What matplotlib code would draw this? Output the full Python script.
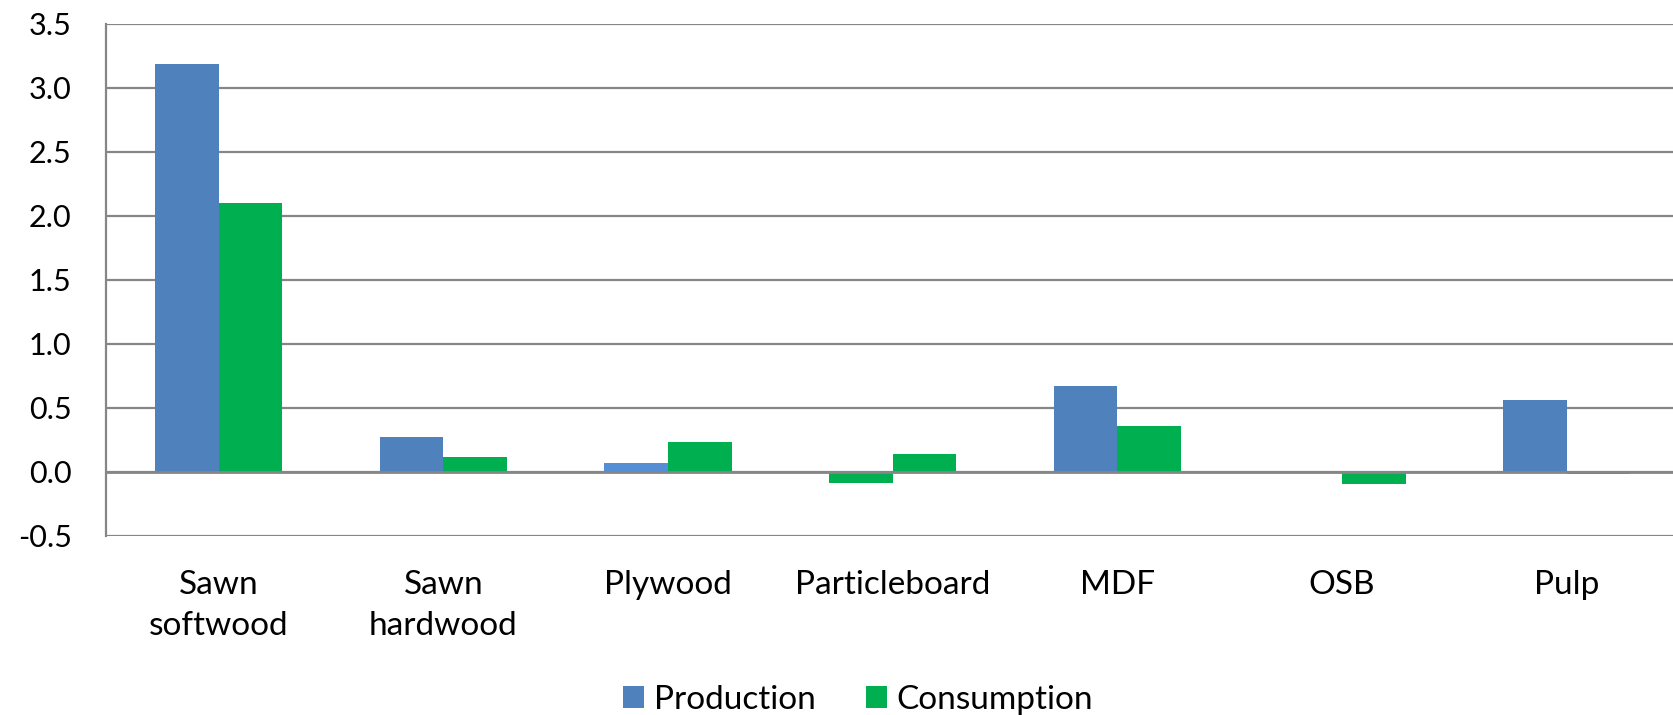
import matplotlib
matplotlib.use("Agg")
import matplotlib.pyplot as plt
import numpy as np
from matplotlib.patches import Patch

categories = ["Sawn\nsoftwood", "Sawn\nhardwood", "Plywood", "Particleboard", "MDF", "OSB", "Pulp"]
production = [3.185, 0.268, 0.068, -0.086, 0.667, 0.0, 0.5625]
consumption = [2.10, 0.118, 0.234, 0.136, 0.355, -0.097, -0.02]
y_ticks = [-0.5, 0.0, 0.5, 1.0, 1.5, 2.0, 2.5, 3.0, 3.5]

BLUE = "#4F81BD"
GREEN = "#00B050"
prod_colors = [BLUE, BLUE, "#558ED5", GREEN, BLUE, BLUE, BLUE]

plt.rcParams['font.family'] = ['Lato', 'DejaVu Sans']

W, H = 1673, 715
fig = plt.figure(figsize=(W / 100, H / 100), dpi=100)
left_px, right_px = 106.4, 1679.0
top_px, bottom_px = 23.7, 535.7
ax = fig.add_axes([left_px / W, 1 - bottom_px / H, (right_px - left_px) / W, (bottom_px - top_px) / H])

x = np.arange(len(categories))
bw = 0.2835
ax.bar(x - bw / 2, production, width=bw, color=prod_colors, zorder=3, linewidth=0)
ax.bar(x + bw / 2, consumption, width=bw, color=GREEN, zorder=3, linewidth=0)

ax.set_xlim(-0.5, len(categories) - 0.5)
ax.set_ylim(-0.5, 3.5)
ax.set_yticks(y_ticks)
ax.set_yticklabels([f"{v:.1f}" for v in y_ticks], fontsize=22)
ax.set_xticks(x)
ax.set_xticklabels(categories, linespacing=1.45, fontsize=24)

grid_c = "#868686"
ax.yaxis.grid(True, color=grid_c, linewidth=1.6, zorder=0)
ax.set_axisbelow(True)
ax.axhline(0, color=grid_c, linewidth=2.0, zorder=4)
for s in ["top", "right", "bottom"]:
    ax.spines[s].set_visible(False)
ax.spines["left"].set_color(grid_c)
ax.spines["left"].set_linewidth(1.6)

ax.tick_params(axis="both", length=0, colors="black")
ax.tick_params(axis="y", pad=25)
ax.tick_params(axis="x", pad=25)

handles = [Patch(facecolor=BLUE, label="Production"), Patch(facecolor=GREEN, label="Consumption")]
fig.legend(handles=handles, loc="center", bbox_to_anchor=(0.513, 0.021), ncol=2, frameon=False,
           fontsize=24, handlelength=0.62, handleheight=0.62, handletextpad=0.3, columnspacing=1.5)

fig.savefig("out.png", dpi=100)
